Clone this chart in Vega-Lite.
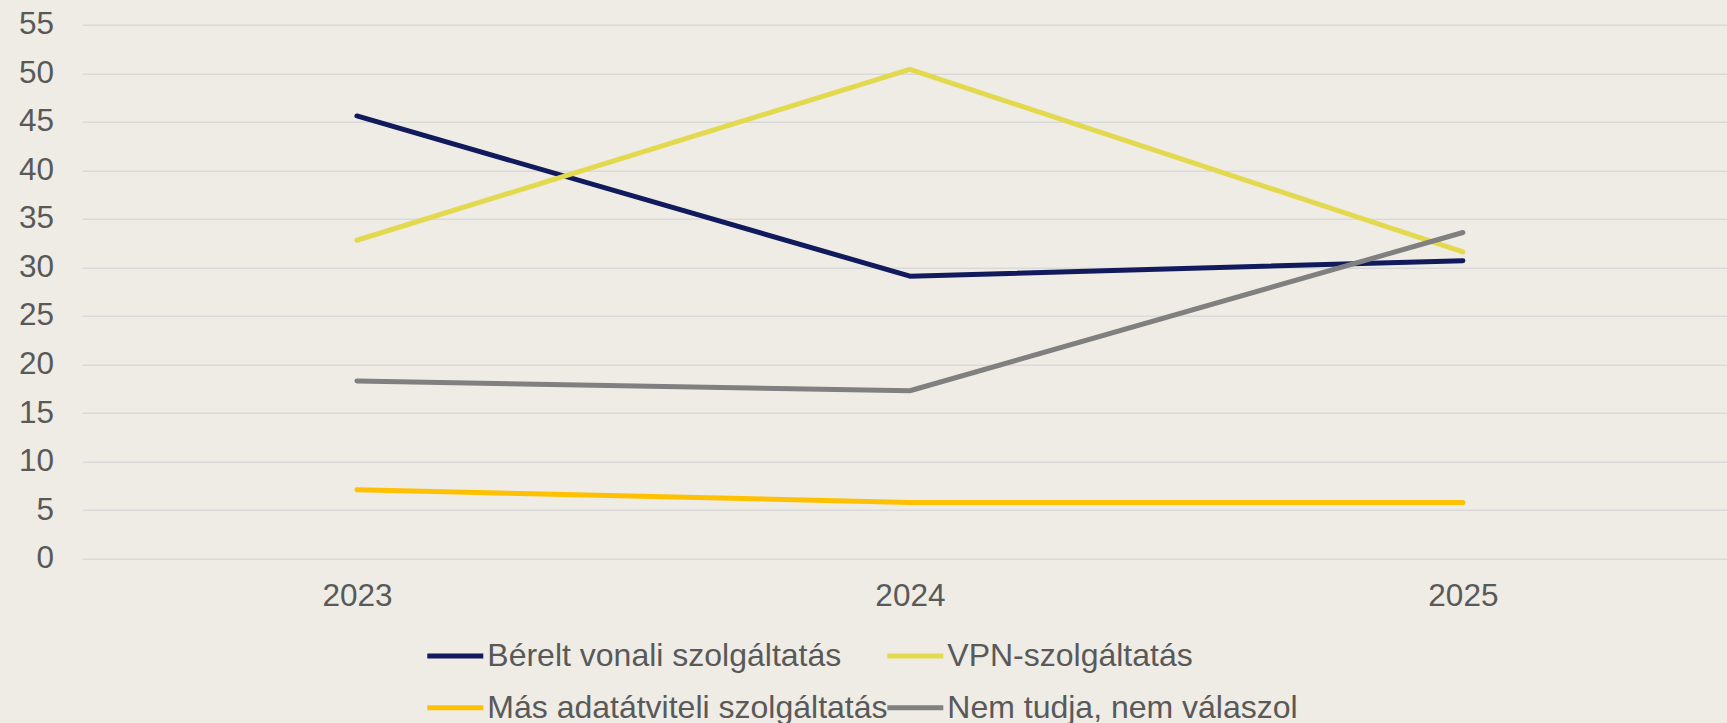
{
  "$schema": "https://vega.github.io/schema/vega-lite/v6.json",
  "width": 1645,
  "height": 534,
  "autosize": {"type": "none"},
  "padding": {"left": 82, "top": 24.7, "right": 0, "bottom": 164.3},
  "background": "#EEECE5",
  "config": {"view": {"stroke": null}, "font": "Liberation Sans"},
  "data": {
    "values": [
      {"year": "2023", "series": "Bérelt vonali szolgáltatás", "value": 45.6},
      {"year": "2024", "series": "Bérelt vonali szolgáltatás", "value": 29.1},
      {"year": "2025", "series": "Bérelt vonali szolgáltatás", "value": 30.7},
      {"year": "2023", "series": "VPN-szolgáltatás", "value": 32.8},
      {"year": "2024", "series": "VPN-szolgáltatás", "value": 50.4},
      {"year": "2025", "series": "VPN-szolgáltatás", "value": 31.6},
      {"year": "2023", "series": "Más adatátviteli szolgáltatás", "value": 7.1},
      {"year": "2024", "series": "Más adatátviteli szolgáltatás", "value": 5.8},
      {"year": "2025", "series": "Más adatátviteli szolgáltatás", "value": 5.8},
      {"year": "2023", "series": "Nem tudja, nem válaszol", "value": 18.3},
      {"year": "2024", "series": "Nem tudja, nem válaszol", "value": 17.3},
      {"year": "2025", "series": "Nem tudja, nem válaszol", "value": 33.6}
    ]
  },
  "mark": {"type": "line", "strokeWidth": 5, "strokeCap": "round", "strokeJoin": "round"},
  "encoding": {
    "x": {
      "field": "year",
      "type": "ordinal",
      "scale": {"type": "point", "padding": 0.4874, "align": 0.51},
      "axis": {
        "title": null,
        "labelAngle": 0,
        "domain": false,
        "ticks": false,
        "tickSize": 0,
        "grid": false,
        "labelFontSize": 31.5,
        "labelColor": "#595959",
        "labelPadding": 22
      }
    },
    "y": {
      "field": "value",
      "type": "quantitative",
      "scale": {"domain": [0, 55], "nice": false},
      "axis": {
        "title": null,
        "values": [0, 5, 10, 15, 20, 25, 30, 35, 40, 45, 50, 55],
        "domain": false,
        "ticks": false,
        "tickSize": 0,
        "grid": true,
        "gridColor": "#D9D9D9",
        "gridWidth": 1.4,
        "labelFontSize": 31.5,
        "labelColor": "#595959",
        "labelPadding": 28.5
      }
    },
    "color": {
      "field": "series",
      "type": "nominal",
      "scale": {
        "domain": ["Bérelt vonali szolgáltatás", "VPN-szolgáltatás", "Más adatátviteli szolgáltatás", "Nem tudja, nem válaszol"],
        "range": ["#101A5C", "#E3D94F", "#FFC000", "#808080"]
      },
      "legend": {
        "title": null,
        "orient": "none",
        "legendX": 356.8,
        "legendY": 614.5,
        "columns": 2,
        "direction": "horizontal",
        "symbolType": "M-2,0H2",
        "symbolSize": 784,
        "symbolStrokeWidth": 5,
        "labelFontSize": 32,
        "labelColor": "#595959",
        "labelOffset": 15.5,
        "columnPadding": -11,
        "rowPadding": 19,
        "labelLimit": 1000,
        "padding": 0
      }
    }
  }
}
